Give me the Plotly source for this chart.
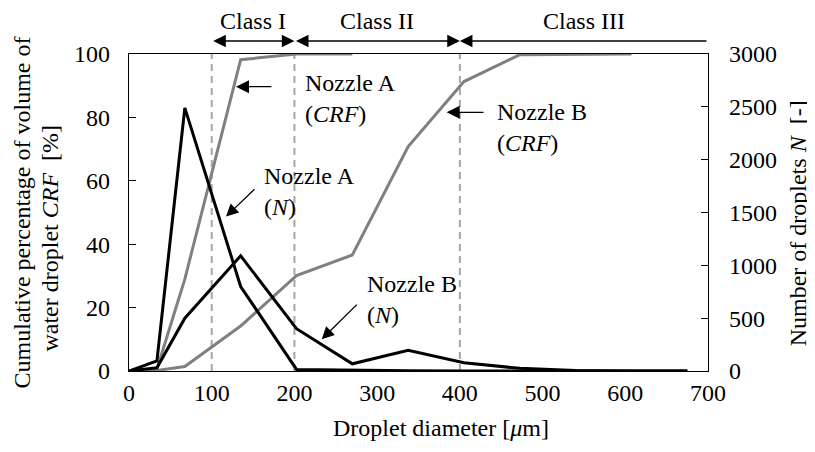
import plotly.graph_objects as go

# ---------------- data ----------------
diameter = [0, 33.75, 67.5, 135, 202.5, 270, 337.5, 405, 472.5, 540, 607.5, 675]

crf_a_x = [0, 33.75, 67.5, 135, 202.5, 270]
crf_a = [0, 0.6, 29, 98.2, 100, 100]

crf_b_x = [0, 33.75, 67.5, 135, 202.5, 270, 337.5, 405, 472.5, 540, 607.5]
crf_b = [0, 0.2, 1.4, 14.2, 30.1, 36.6, 70.8, 91.3, 99.8, 100, 100]

n_a = [0, 95, 2490, 800, 15, 5, 2, 1, 0, 0, 0, 0]
n_b = [0, 30, 500, 1090, 400, 68, 195, 78, 25, 5, 0, 0]

class_bounds = [100, 200, 400, 700]
class_labels = ["Class I", "Class II", "Class III"]

x_ticks = [0, 100, 200, 300, 400, 500, 600, 700]
y_ticks = [0, 20, 40, 60, 80, 100]
y2_ticks = [0, 500, 1000, 1500, 2000, 2500, 3000]

FONT = "Liberation Serif"
FS = 24
GRAY = "#808080"
DASH = "#a6a6a6"

fig = go.Figure()

# class boundary dashed lines
for b in class_bounds[:3]:
    fig.add_trace(go.Scatter(x=[b, b], y=[0, 100], mode="lines",
                             line=dict(color=DASH, width=2, dash="7px,5px"),
                             hoverinfo="skip", showlegend=False))

fig.add_trace(go.Scatter(x=crf_a_x, y=crf_a, mode="lines",
                         line=dict(color=GRAY, width=3), name="Nozzle A (CRF)", showlegend=False))
fig.add_trace(go.Scatter(x=crf_b_x, y=crf_b, mode="lines",
                         line=dict(color=GRAY, width=3), name="Nozzle B (CRF)", showlegend=False))
fig.add_trace(go.Scatter(x=diameter, y=n_a, mode="lines", yaxis="y2",
                         line=dict(color="black", width=3), name="Nozzle A (N)", showlegend=False))
fig.add_trace(go.Scatter(x=diameter, y=n_b, mode="lines", yaxis="y2",
                         line=dict(color="black", width=3), name="Nozzle B (N)", showlegend=False))

ann = []

# class arrows and labels
for i, lab in enumerate(class_labels):
    lo, hi = class_bounds[i], class_bounds[i + 1]
    if i < 2:
        ann.append(dict(x=hi, y=1.041, ax=lo, ay=0, xref="x", yref="paper",
                        axref="x", ayref="pixel", text="", showarrow=True,
                        arrowhead=2, arrowside="end+start", arrowsize=1.8,
                        arrowwidth=1.4, arrowcolor="black"))
    else:
        ann.append(dict(x=lo, y=1.041, ax=hi, ay=0, xref="x", yref="paper",
                        axref="x", ayref="pixel", text="", showarrow=True,
                        arrowhead=2, arrowside="end", arrowsize=1.8,
                        arrowwidth=1.4, arrowcolor="black"))
    ann.append(dict(x=(lo + hi) / 2, y=1.104, xref="x", yref="paper", text=lab,
                    showarrow=False, font=dict(family=FONT, size=FS, color="black"),
                    xanchor="center", yanchor="middle"))

# series labels with pointer arrows (x in data units, y in % units)
labels = [
    ("Nozzle A<br>(<i>CRF</i>)", 210, 86, (129.4, 89.7), (174, 89.7), 2.0),
    ("Nozzle A<br>(<i>N</i>)", 160.4, 56.5, (117.3, 48.7), (153.5, 57.8), 1.9),
    ("Nozzle B<br>(<i>CRF</i>)", 442.5, 76.7, (384.1, 81.6), (430.4, 81.6), 2.0),
    ("Nozzle B<br>(<i>N</i>)", 285.3, 22.4, (233, 10), (277.2, 21.4), 1.9),
]
for txt, tx, ty, head, tail, asz in labels:
    ann.append(dict(x=tx, y=ty, xref="x", yref="y", text=txt, showarrow=False,
                    align="left", xanchor="left", yanchor="middle",
                    font=dict(family=FONT, size=FS, color="black")))
    ann.append(dict(x=head[0], y=head[1], ax=tail[0], ay=tail[1], xref="x", yref="y",
                    axref="x", ayref="y", text="", showarrow=True, arrowhead=2,
                    arrowsize=asz, arrowwidth=1.3, arrowcolor="black"))

# axis titles
ann.append(dict(x=0.5394, y=-0.180, xref="paper", yref="paper",
                text="Droplet diameter [<i>μ</i>m]", showarrow=False,
                font=dict(family=FONT, size=FS, color="black"),
                xanchor="center", yanchor="middle"))
ann.append(dict(x=-0.185, y=0.50, xref="paper", yref="paper",
                text="Cumulative percentage of volume of", showarrow=False, textangle=-90,
                font=dict(family=FONT, size=FS, color="black"),
                xanchor="center", yanchor="middle"))
ann.append(dict(x=-0.137, y=0.42, xref="paper", yref="paper",
                text="water droplet <i>CRF</i>  [%]", showarrow=False, textangle=-90,
                font=dict(family=FONT, size=FS, color="black"),
                xanchor="center", yanchor="middle"))
ann.append(dict(x=1.155, y=0.465, xref="paper", yref="paper",
                text="Number of droplets <i>N</i>  [-]", showarrow=False, textangle=-90,
                font=dict(family=FONT, size=FS, color="black"),
                xanchor="center", yanchor="middle"))

# page body has an 8px margin, so the figure is 8px smaller and shifted
fig.update_layout(
    width=807, height=444, autosize=False,
    margin=dict(l=121, r=107, t=46, b=81),
    paper_bgcolor="white", plot_bgcolor="white",
    font=dict(family=FONT, size=FS, color="black"),
    showlegend=False,
    annotations=ann,
    xaxis=dict(range=[0, 700], tickvals=x_ticks, ticktext=[str(v) for v in x_ticks],
               showgrid=False, zeroline=False, showline=True, linecolor="black",
               linewidth=1.3, mirror=True, ticks="", ticklabelstandoff=0,
               tickfont=dict(family=FONT, size=FS, color="black")),
    yaxis=dict(range=[0, 100], tickvals=y_ticks, ticktext=[str(v) for v in y_ticks],
               showgrid=False, zeroline=False, showline=True, linecolor="black",
               linewidth=1.3, ticks="inside", ticklen=7, tickwidth=1.3, tickcolor="black",
               ticklabelstandoff=13,
               tickfont=dict(family=FONT, size=FS, color="black")),
    yaxis2=dict(range=[0, 3000], tickvals=y2_ticks, ticktext=[str(v) for v in y2_ticks],
                overlaying="y", side="right", showgrid=False, zeroline=False,
                showline=True, linecolor="black", linewidth=1.3,
                ticks="inside", ticklen=7, tickwidth=1.3, tickcolor="black",
                ticklabelstandoff=15,
                tickfont=dict(family=FONT, size=FS, color="black")),
)

fig.write_html("out.html")
